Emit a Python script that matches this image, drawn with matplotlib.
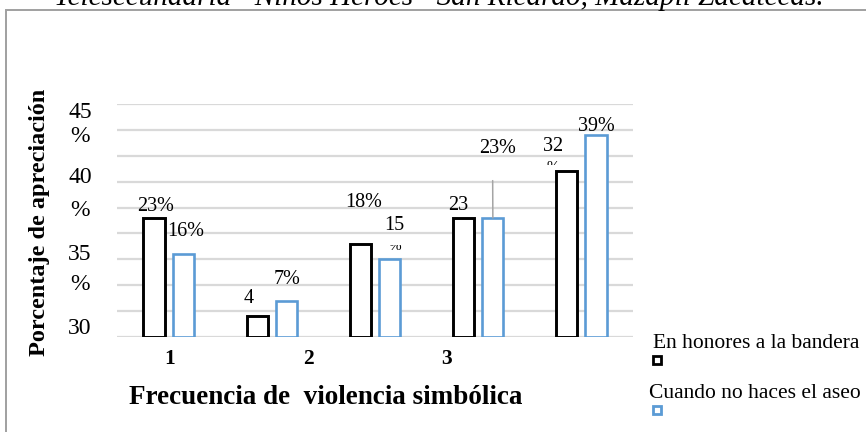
#!/usr/bin/env python3
"""Bar chart: frecuencia de violencia simbolica (two situations)."""

import numpy as np
import matplotlib
matplotlib.use("Agg")
import matplotlib.pyplot as plt
from matplotlib.transforms import Bbox
from matplotlib.lines import Line2D
from matplotlib.patches import Rectangle

plt.rcParams.update({
    "font.family": ["Liberation Serif", "DejaVu Serif"],
    "font.size": 12,
})

# ---------------------------------------------------------------------------
# Data
# ---------------------------------------------------------------------------
groups = [0, 1, 2, 3, 4]
honores = [23, 4, 18, 23, 32]          # En honores a la bandera
aseo = [16, 7, 15, 23, 39]             # Cuando no haces el aseo
labels_honores = ["23%", "4", "18%", "23", "32"]
labels_aseo = ["16%", "7%", "15", "23%", "39%"]
series_names = ["En honores a la bandera", "Cuando no haces el aseo"]
xtick_text = ["1", "2", "3"]
ytick_text = ["45", "%", "40", "%", "35", "%", "30"]
title = "Telesecundaria \u201cNiños Héroes\u201d San Ricardo, Mazapil Zacatecas."
xlabel = "Frecuencia de  violencia simbólica"
ylabel = "Porcentaje de apreciación"

# ---------------------------------------------------------------------------
# Layout (pixels on a 866x432 canvas)
# ---------------------------------------------------------------------------
W, H = 866, 432
BLACK = "#000000"
BLUE = "#5B9BD5"
GRID = "#D9D9D9"

# label offsets from bar top (dx, dy) in pixels
off_honores = [(1.5, 11), (-8, 18), (3, 41), (-5, 12), (-14, 25)]
off_aseo = [(2.5, 23), (1, 21), (5, 34), (4.5, 69), (0, 9)]
ytick_px = [112, 137, 178, 211, 254, 285, 328]
xtick_px = [170, 308, 447]


def fy(py):
    return 1 - py / H


def keep_rows(artist, top, bottom):
    """Clip an artist to the image rows between `top` and `bottom`."""
    artist.set_clip_box(Bbox.from_extents(0, H - bottom, W, H - top))
    artist.set_clip_on(True)


fig = plt.figure(figsize=(W / 100, H / 100), dpi=100)
ax = fig.add_axes([117 / W, fy(337), 516 / W, (337 - 104) / H])

x = np.array(groups, dtype=float)
bw = 0.205
off = 0.142
ax.bar(x - off, honores, bw, facecolor="white", edgecolor=BLACK, linewidth=2.1, zorder=3)
ax.bar(x + off, aseo, bw, facecolor="white", edgecolor=BLUE, linewidth=1.9, zorder=3)

ax.set_xlim(-0.5, 4.5)
ax.set_ylim(0, 45)
ax.set_yticks(np.arange(0, 46, 5))
ax.yaxis.grid(True, color=GRID, lw=1.6, zorder=0)
ax.set_axisbelow(True)
ax.tick_params(length=0, labelleft=False, labelbottom=False)
for s in ax.spines.values():
    s.set_visible(False)

lab_kw = dict(textcoords="offset pixels", ha="center", va="center",
              fontsize=14.5, annotation_clip=False)
for i, g in enumerate(groups):
    dx, dy = off_honores[i]
    t = ax.annotate(labels_honores[i], (g - off, honores[i]), xytext=(dx, dy), **lab_kw)
    if i == 3:
        keep_rows(t, 0, 210)
    dx, dy = off_aseo[i]
    if i == 3:
        ax.annotate(labels_aseo[i], (g + off, aseo[i]), xytext=(dx, dy),
                    arrowprops=dict(arrowstyle="-", color="#A5A5A5", lw=1.1,
                                    shrinkA=14, shrinkB=0, relpos=(0.37, 0)),
                    **lab_kw)
    else:
        ax.annotate(labels_aseo[i], (g + off, aseo[i]), xytext=(dx, dy), **lab_kw)

# clipped fragments of the wrapped labels
frag_kw = dict(lab_kw, fontsize=11)
pc = ax.annotate("%", (groups[2] + off, aseo[2]), xytext=(5, 13), **frag_kw)
keep_rows(pc, 245, 253)
pc2 = ax.annotate("%", (groups[4] - off, honores[4]), xytext=(-14, 4), **frag_kw)
keep_rows(pc2, 0, 165)

# y "tick" labels (wrapped in the original)
for s, py in zip(ytick_text, ytick_px):
    fig.text(80 / W, fy(py), s, ha="center", va="center", fontsize=17)

# x "tick" labels
for s, px in zip(xtick_text, xtick_px):
    t = fig.text(px / W, fy(359), s, ha="center", va="center",
                 fontsize=15.5, fontweight="bold")
    keep_rows(t, 0, 365)

fig.text(326 / W, fy(398), xlabel, ha="center", va="center",
         fontsize=19.5, fontweight="bold")
fig.text(40 / W, fy(222), ylabel, ha="center", va="center",
         rotation=90, fontsize=17.5, fontweight="bold")

# legend (text above marker)
fig.text(653 / W, fy(343), series_names[0], ha="left", va="center", fontsize=15.5)
fig.text(649 / W, fy(393), series_names[1], ha="left", va="center", fontsize=15.5)
for col, py in [(BLACK, 360), (BLUE, 410)]:
    fig.add_artist(Line2D([657 / W], [fy(py)], marker="s", markersize=5.5,
                          markerfacecolor="white", markeredgecolor=col,
                          markeredgewidth=2, linestyle="none",
                          transform=fig.transFigure))

# outer frame
fig.add_artist(Rectangle((6 / W, -0.1), 1.2, fy(10) + 0.1, transform=fig.transFigure,
                         fill=False, edgecolor="#A0A0A0", lw=1.4))

# title, mostly cut off at the top edge (as in the source image)
fig.text(439 / W, fy(5), title, ha="center", va="baseline",
         fontsize=21, fontstyle="italic")

fig.savefig("out.png", dpi=100)
